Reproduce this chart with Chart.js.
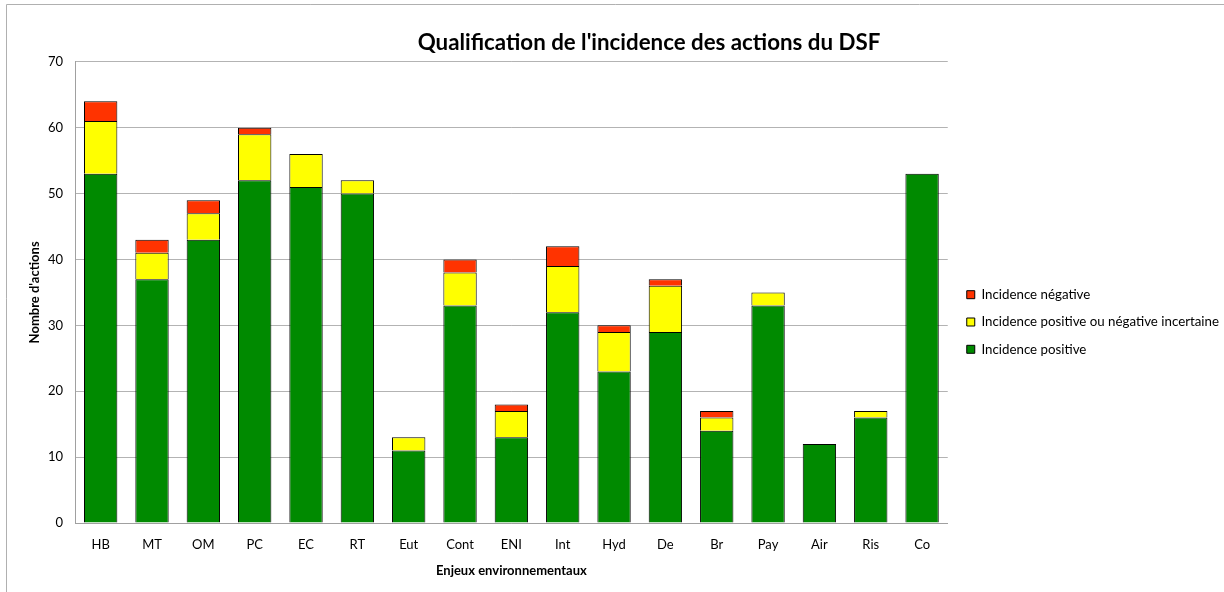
<!DOCTYPE html>
<html>
<head>
<meta charset="utf-8">
<script src="https://cdn.jsdelivr.net/npm/chart.js@4"></script>
<style>
  body { margin: 0; background: #fff; }
</style>
</head>
<body>
<canvas id="chart" width="1224" height="592"></canvas>
<script>
// Data
const categories = ['HB', 'MT', 'OM', 'PC', 'EC', 'RT', 'Eut', 'Cont', 'ENI', 'Int', 'Hyd', 'De', 'Br', 'Pay', 'Air', 'Ris', 'Co'];
const positive  = [53, 37, 43, 52, 51, 50, 11, 33, 13, 32, 23, 29, 14, 33, 12, 16, 53];
const uncertain = [8, 4, 4, 7, 5, 2, 2, 5, 4, 7, 6, 7, 2, 2, 0, 1, 0];
const negative  = [3, 2, 2, 1, 0, 0, 0, 2, 1, 3, 1, 1, 1, 0, 0, 0, 0];

const FONT = 'Lato, "Open Sans", sans-serif';

// Outer frame of the chart (left and top edges only are visible)
const framePlugin = {
    id: 'frame',
    beforeDraw(chart) {
        const ctx = chart.ctx;
        ctx.save();
        ctx.fillStyle = '#fff';
        ctx.fillRect(0, 0, chart.width, chart.height);
        ctx.strokeStyle = '#b0b0b0';
        ctx.lineWidth = 1;
        ctx.beginPath();
        ctx.moveTo(6.5, chart.height);
        ctx.lineTo(6.5, 4.5);
        ctx.lineTo(chart.width, 4.5);
        ctx.stroke();
        ctx.restore();
    }
};

// Excel centres the title on a wider area and puts the legend a bit lower
const nudgePlugin = {
    id: 'nudge',
    afterLayout(chart) {
        const tdx = 27;
        if (chart.titleBlock) {
            chart.titleBlock.left += tdx;
            chart.titleBlock.right += tdx;
        }
        const ldx = 5, ldy = 27;
        if (chart.legend) {
            chart.legend.left += ldx;
            chart.legend.right += ldx;
            chart.legend.top += ldy;
            chart.legend.bottom += ldy;
        }
    }
};

const ctx = document.getElementById('chart').getContext('2d');

new Chart(ctx, {
    type: 'bar',
    data: {
        labels: categories,
        datasets: [
            {
                label: 'Incidence positive',
                data: positive,
                backgroundColor: '#008a00',
            },
            {
                label: 'Incidence positive ou négative incertaine',
                data: uncertain,
                backgroundColor: '#ffff00',
            },
            {
                label: 'Incidence négative',
                data: negative,
                backgroundColor: '#ff3300',
            },
        ],
    },
    options: {
        responsive: false,
        animation: false,
        layout: {
            padding: { left: 20, right: 0, top: 4, bottom: 6 },
        },
        datasets: {
            bar: {
                borderColor: '#000',
                borderWidth: 1,
                borderSkipped: 'start',
                barPercentage: 0.65,
                categoryPercentage: 1,
            },
        },
        plugins: {
            title: {
                display: true,
                text: "Qualification de l'incidence des actions du DSF",
                color: '#000',
                font: { family: FONT, size: 22.3, weight: 'bold' },
                padding: { top: 25, bottom: 6 },
            },
            legend: {
                position: 'right',
                reverse: true,
                labels: {
                    color: '#000',
                    font: { family: FONT, size: 13.3 },
                    boxWidth: 8,
                    boxHeight: 8,
                    padding: 14,
                },
            },
            tooltip: { enabled: false },
        },
        scales: {
            x: {
                stacked: true,
                grid: { display: false, drawTicks: false },
                border: { display: true, color: '#a0a0a0' },
                afterFit(scale) { scale.height = 63; },
                ticks: {
                    color: '#000',
                    font: { family: FONT, size: 13 },
                    padding: 14,
                },
                title: {
                    display: true,
                    text: 'Enjeux environnementaux',
                    color: '#000',
                    font: { family: FONT, size: 13, weight: 'bold' },
                    padding: { top: 0, bottom: 7 },
                },
            },
            y: {
                stacked: true,
                min: 0,
                max: 70,
                grid: { color: '#b3b3b3', drawTicks: false },
                border: { display: true, color: '#a0a0a0' },
                afterFit(scale) { scale.width = 55; },
                ticks: {
                    stepSize: 10,
                    color: '#000',
                    font: { family: FONT, size: 13 },
                    padding: 12,
                },
                title: {
                    display: true,
                    text: "Nombre d'actions",
                    color: '#000',
                    font: { family: FONT, size: 13, weight: 'bold' },
                    padding: { top: 7, bottom: 0 },
                },
            },
        },
    },
    plugins: [framePlugin, nudgePlugin],
});
</script>
</body>
</html>
